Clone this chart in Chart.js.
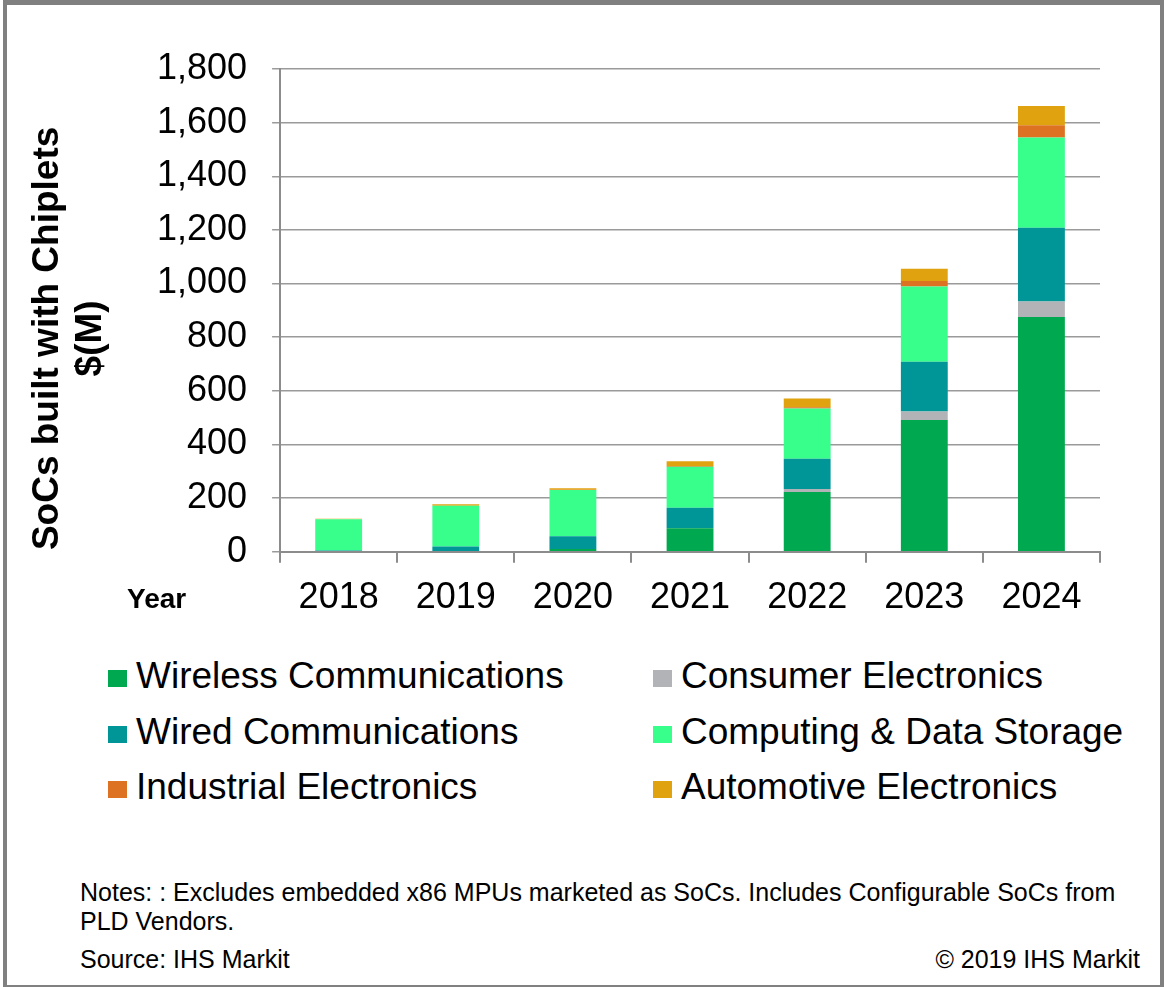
<!DOCTYPE html>
<html>
<head>
<meta charset="utf-8">
<script src="https://cdn.jsdelivr.net/npm/chart.js@4/dist/chart.umd.min.js"></script>
<style>
  body { margin: 0; background: #fff; font-family: "Liberation Sans", Arial, sans-serif; }
  #frame {
    position: absolute; left: 3px; top: 0; width: 1153px; height: 980px;
    border: 4px solid #808080; border-top-width: 5px; background: #fff;
  }
  #chartBox { position: absolute; left: 0; top: 0; width: 1166px; height: 640px; }
  .year { position: absolute; left: 127px; top: 583px; font-size: 28px; font-weight: bold; color: #000; }
  .legend-item { position: absolute; font-size: 37px; color: #000; line-height: 40px; white-space: nowrap; }
  .legend-item span { display: inline-block; width: 19px; height: 17px; margin-right: 9px; vertical-align: 1px; }
  .notes { position: absolute; left: 80px; top: 878px; font-size: 25px; line-height: 29px; color: #000; }
  .source { position: absolute; left: 80px; top: 945px; font-size: 25px; color: #000; }
  .copy { position: absolute; right: 26px; top: 945px; font-size: 25px; color: #000; }
</style>
</head>
<body>
<div id="frame"></div>
<div id="chartBox"><canvas id="socChart"></canvas></div>
<div class="year">Year</div>
<div id="legend"></div>
<div class="notes">Notes: : Excludes embedded x86 MPUs marketed as SoCs. Includes Configurable SoCs from<br>PLD Vendors.</div>
<div class="source">Source: IHS Markit</div>
<div class="copy">© 2019 IHS Markit</div>
<script>
const years = ['2018', '2019', '2020', '2021', '2022', '2023', '2024'];

// $M per segment, bottom of the stack first
const wireless   = [0, 0, 10, 88, 223, 491, 875];
const consumer   = [0, 0, 0, 0, 11, 32, 58];
const wired      = [5, 20, 48, 76, 113, 186, 275];
const computing  = [116, 152, 172, 153, 187, 280, 337];
const industrial = [0, 0, 1, 3, 5, 21, 45];
const automotive = [2, 5, 6, 18, 33, 45, 72];

const yTicks = [0, 200, 400, 600, 800, 1000, 1200, 1400, 1600, 1800];
const yTitle = ['SoCs built with Chiplets', '$(M)'];

const series = [
    { label: 'Wireless Communications', data: wireless, color: '#00a94f' },
    { label: 'Consumer Electronics', data: consumer, color: '#b1b3b6' },
    { label: 'Wired Communications', data: wired, color: '#009597' },
    { label: 'Computing & Data Storage', data: computing, color: '#38fe8c' },
    { label: 'Industrial Electronics', data: industrial, color: '#dd7322' },
    { label: 'Automotive Electronics', data: automotive, color: '#e0a30f' }
];

// two-column legend laid out like the slide: left column wireless/wired/industrial
const legendSlots = [
    { i: 0, x: 108, y: 656 }, { i: 1, x: 653, y: 656 },
    { i: 2, x: 108, y: 712 }, { i: 3, x: 653, y: 712 },
    { i: 4, x: 108, y: 767 }, { i: 5, x: 653, y: 767 }
];
const legend = document.getElementById('legend');
legendSlots.forEach(slot => {
    const s = series[slot.i];
    const div = document.createElement('div');
    div.className = 'legend-item';
    div.style.left = slot.x + 'px';
    div.style.top = slot.y + 'px';
    div.innerHTML = '<span style="background:' + s.color + '"></span>' + s.label.replace('&', '&amp;');
    legend.appendChild(div);
});

// rotated axis title, sitting a bit below the middle of the plot like the slide
const yTitlePlugin = {
    id: 'yTitle',
    afterDraw(chart) {
        const { ctx, chartArea } = chart;
        const cy = (chartArea.top + chartArea.bottom) / 2 + 28;
        ctx.save();
        ctx.font = 'bold 37px "Liberation Sans", Arial, sans-serif';
        ctx.fillStyle = '#000';
        ctx.textAlign = 'center';
        ctx.textBaseline = 'middle';
        ctx.translate(48, cy);
        ctx.rotate(-Math.PI / 2);
        ctx.fillText(yTitle[0], 0, 0);
        ctx.fillText(yTitle[1], 0, 43);
        ctx.restore();
    }
};

const ctx = document.getElementById('socChart').getContext('2d');
new Chart(ctx, {
    type: 'bar',
    data: {
        labels: years,
        datasets: series.map(s => ({
            label: s.label,
            data: s.data,
            backgroundColor: s.color,
            borderWidth: 0,
            barPercentage: 0.4,
            categoryPercentage: 1
        }))
    },
    options: {
        responsive: true,
        maintainAspectRatio: false,
        animation: false,
        layout: { padding: { left: 132, top: 69, right: 66, bottom: 6 } },
        plugins: {
            legend: { display: false },
            tooltip: { enabled: false }
        },
        scales: {
            x: {
                stacked: true,
                grid: {
                    drawOnChartArea: false,
                    color: '#8c8c8c',
                    lineWidth: 2,
                    tickLength: 11
                },
                border: { color: '#8c8c8c', width: 2 },
                ticks: {
                    color: '#000',
                    padding: 14,
                    font: { family: '"Liberation Sans", Arial, sans-serif', size: 36 }
                }
            },
            y: {
                stacked: true,
                min: 0,
                max: 1800,
                afterBuildTicks: axis => { axis.ticks = yTicks.map(v => ({ value: v })); },
                grid: {
                    color: '#9a9a9a',
                    lineWidth: 1.5,
                    tickLength: 8
                },
                border: { color: '#8c8c8c', width: 2 },
                ticks: {
                    color: '#000',
                    padding: 25,
                    callback: v => v.toLocaleString('en-US'),
                    font: { family: '"Liberation Sans", Arial, sans-serif', size: 36 }
                }
            }
        }
    },
    plugins: [yTitlePlugin]
});
</script>
</body>
</html>
